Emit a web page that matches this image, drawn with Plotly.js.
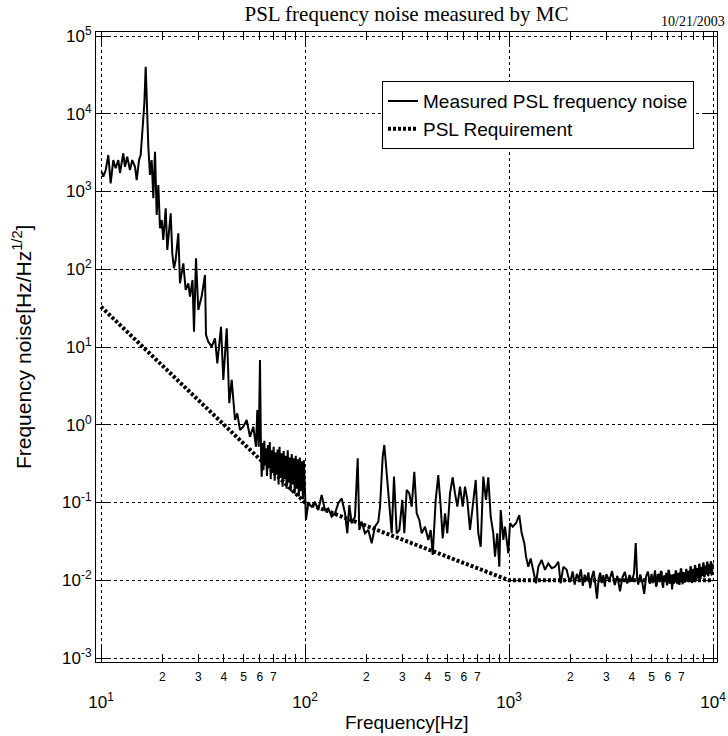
<!DOCTYPE html>
<html>
<head>
<meta charset="utf-8">
<script src="https://cdn.plot.ly/plotly-3.0.1.min.js"></script>
<style>html,body{margin:0;padding:0;background:#fff;}#chart{width:728px;height:736px;}</style>
</head>
<body>
<div id="chart"></div>
<script>
// Measured PSL frequency noise [Hz/Hz^1/2] vs frequency [Hz]
const freqMeasured = [
 10.08,10.26,10.55,10.86,11.15,11.49,11.80,12.16,12.39,12.86,13.11,13.44,13.87,14.23,14.68,14.96,15.36,15.65,
 16.01,16.31,16.56,16.81,17.06,17.39,17.72,18.05,18.40,18.75,19.10,19.46,19.84,20.20,20.76,21.13,21.54,21.96,
 22.36,22.79,23.23,23.93,24.39,24.86,25.32,26.01,26.79,27.31,28.09,28.57,29.22,29.99,31.17,32.35,32.71,33.57,
 34.88,36.21,37.17,38.75,39.77,41.33,42.55,43.72,45.38,46.57,48.01,49.83,51.78,53.75,55.79,57.51,58.37,59.29,
 60.17,60.86,61.34,
 62.0,62.6,63.2,63.8,64.5,65.1,65.8,66.5,67.2,67.9,68.7,69.4,70.2,71.0,71.8,72.6,73.4,74.2,75.0,75.9,76.8,77.7,
 78.6,79.5,80.4,81.3,82.3,83.2,84.2,85.1,86.1,87.1,88.1,89.1,90.1,91.1,92.2,93.3,94.4,95.5,96.6,97.7,98.8,99.9,
 101.1,103.8,107.8,111.9,116.2,120.7,125.3,130.1,135.2,140.3,145.6,151.3,157.1,161.2,164.9,169.4,175.8,181.3,
 184.6,189.7,196.8,204.3,212.3,220.3,228.7,233.2,240.4,244.8,251.5,258.2,266.1,273.1,281.6,290.0,299.9,306.8,
 315.1,324.5,333.4,343.4,352.8,363.4,373.3,387.5,402.2,413.3,422.7,437.2,450.2,462.6,473.2,485.7,498.4,513.8,
 529.7,543.6,558.0,575.2,592.9,608.6,624.6,644.0,663.9,686.8,707.2,726.6,748.2,771.4,791.6,813.4,837.5,853.9,
 876.3,896.4,910.6,937.8,955.9,992.2,1011,1043,1082,1123,1154,1189,1212,1243,1277,1315,1356,1392,1446,1501,
 1558,1619,1681,1745,1792,1846,1918,
 1950,2000,2050,2100,2150,2200,2250,2300,2350,2400,2450,2500,2550,2600,2650,2700,2750,2800,2850,2900,2950,3000,
 3100,3200,3300,3400,3500,3600,3700,3800,3900,4000,4100,4180,4250,4300,4400,4500,4600,4700,4800,4900,
 5000,5050,5100,5150,5200,5250,5300,5350,5400,5450,5500,5550,5600,5650,5700,5750,5800,5850,5900,5950,
 6000,6050,6100,6150,6200,6250,6300,6350,6400,6450,6500,6550,6600,6650,6700,6750,6800,6850,6900,6950,
 7000,7050,7100,7150,7200,7250,7300,7350,7400,7450,7500,7550,7600,7650,7700,7750,7800,7850,7900,7950,
 8000,8050,8100,8150,8200,8250,8300,8350,8400,8450,8500,8550,8600,8650,8700,8750,8800,8850,8900,8950,
 9000,9050,9100,9150,9200,9250,9300,9350,9400,9450,9500,9550,9600,9650,9700,9750,9800,9850,9900,9950,10000
];
const noiseMeasured = [
 1800,1550,1890,2950,1270,2540,1990,2540,1730,3100,2080,2800,1890,2540,2080,1405,2540,2950,
 6800,13600,40300,10100,3770,1630,2540,818,3250,499,1210,336,430,238,608,177,290,525,
 160,103,132,290,65.9,88.7,119,54.1,65.9,44.4,72.8,15.7,138,29.9,45.3,84.3,14.3,11.7,
 10.1,12.9,6.17,18.2,3.77,17.4,1.89,3.77,1.15,1.40,0.855,0.944,1.15,0.702,0.944,0.522,1.55,0.522,
 6.81,0.43,0.215,
 0.58,0.26,0.62,0.30,0.50,0.22,0.55,0.28,0.60,0.20,0.47,0.24,0.52,0.19,0.44,0.23,0.48,0.17,0.52,0.21,0.43,0.16,
 0.46,0.20,0.40,0.15,0.47,0.18,0.38,0.14,0.42,0.17,0.37,0.13,0.40,0.15,0.36,0.12,0.38,0.14,0.34,0.11,0.35,0.13,
 0.0596,0.0977,0.0883,0.102,0.080,0.125,0.080,0.084,0.0656,0.0726,0.0977,0.113,0.0726,0.0402,0.0929,0.0541,0.0656,0.371,
 0.0443,0.0566,0.0402,0.0443,0.0299,0.0489,0.0566,0.0883,0.388,0.549,0.238,0.0883,0.0402,0.215,0.0402,0.0443,0.108,0.0402,
 0.145,0.131,0.0883,0.249,0.0726,0.0596,0.0402,0.0489,0.033,0.0443,0.0211,0.108,0.225,0.0883,0.0346,0.0726,0.0402,0.131,
 0.211,0.131,0.0883,0.160,0.0883,0.160,0.108,0.0443,0.0977,0.195,0.0402,0.027,0.215,0.108,0.211,0.0656,0.0402,0.0201,
 0.0402,0.0149,0.080,0.033,0.0489,0.0222,0.0541,0.0489,0.0541,0.069,0.0402,0.0299,0.0201,0.0149,0.0191,0.0129,0.00914,0.0149,0.0182,0.0136,
 0.0165,0.0143,0.0149,0.0173,0.00914,0.0149,0.0136,
 0.0112,0.0095,0.0130,0.0088,0.0121,0.0102,0.0138,0.0085,0.0118,0.0097,0.0126,0.0079,0.0110,0.0132,0.0090,0.0058,0.0105,0.0125,0.0092,0.0116,0.0083,0.0120,
 0.0098,0.0131,0.0087,0.0114,0.0072,0.0109,0.0128,0.0091,0.0117,0.0096,0.0124,0.0300,0.0105,0.0088,0.0119,0.0094,0.0067,0.0113,0.0129,0.0090,
 0.0121,0.0092,0.0099,0.0128,0.0134,0.0083,0.0086,0.0117,0.0118,0.0095,0.0102,0.0131,0.0127,0.0088,0.0080,0.0112,0.0115,0.0097,0.0125,0.0086,
 0.0093,0.0136,0.0130,0.0090,0.0104,0.0118,0.0076,0.0113,0.0120,0.0091,0.0098,0.0129,0.0133,0.0094,0.0090,0.0121,0.0122,0.0087,0.0108,0.0141,
 0.0138,0.0096,0.0089,0.0124,0.0126,0.0093,0.0105,0.0137,0.0140,0.0099,0.0095,0.0132,0.0128,0.0097,0.0110,0.0151,0.0145,0.0102,0.0092,0.0139,
 0.0131,0.0100,0.0114,0.0156,0.0150,0.0098,0.0101,0.0143,0.0137,0.0107,0.0118,0.0162,0.0160,0.0109,0.0104,0.0149,0.0142,0.0113,0.0122,0.0168,
 0.0165,0.0112,0.0110,0.0155,0.0148,0.0118,0.0127,0.0172,0.0170,0.0114,0.0115,0.0160,0.0152,0.0121,0.0133,0.0175,0.0168,0.0119,0.0120,0.0163,0.0150
];

// PSL requirement (break points of the requirement curve)
const freqRequirement  = [10, 100, 1000, 10000];
const noiseRequirement = [33, 0.1, 0.01, 0.01];

// Tick labels
const yTickVals = [1e-3, 1e-2, 1e-1, 1e0, 1e1, 1e2, 1e3, 1e4, 1e5];
const yTickText = ['10<sup>-3</sup>','10<sup>-2</sup>','10<sup>-1</sup>','10<sup>0</sup>','10<sup>1</sup>',
                   '10<sup>2</sup>','10<sup>3</sup>','10<sup>4</sup>','10<sup>5</sup>'];
const xMajorVals = [10, 100, 1000, 10000];
const xMajorText = ['10<sup>1</sup>','10<sup>2</sup>','10<sup>3</sup>','10<sup>4</sup>'];
const xMinorTickVals = [20,30,40,50,60,70,80,90, 200,300,400,500,600,700,800,900, 2000,3000,4000,5000,6000,7000,8000,9000];
const xMinorLabelVals = [20,30,40,50,60,70, 200,300,400,500,600,700, 2000,3000,4000,5000,6000,7000];
const xMinorLabelText = ['2','3','4','5','6','7', '2','3','4','5','6','7', '2','3','4','5','6','7'];

const FONT = 'Liberation Sans, Arial, Helvetica, sans-serif';
const SERIF = 'Liberation Serif, Times New Roman, serif';
const xRange = [0.9755, 4.0196];
const yRange = [-3.0514, 5.0514];

const traces = [
  {
    x: freqMeasured, y: noiseMeasured, type: 'scatter', mode: 'lines',
    name: 'Measured PSL frequency noise',
    line: {color: '#000', width: 2}
  },
  {
    x: freqRequirement, y: noiseRequirement, type: 'scatter', mode: 'lines',
    name: 'PSL Requirement',
    line: {color: '#000', width: 4, dash: '3px,2px'}
  },
  { // invisible helper so the minor-label axis is drawn
    x: [10, 10000], y: [1, 1], xaxis: 'x2', yaxis: 'y', mode: 'lines',
    line: {width: 0}, showlegend: false, hoverinfo: 'skip', opacity: 0
  }
];

const layout = {
  width: 728, height: 736,
  margin: {l: 96, r: 11, t: 32, b: 74},
  paper_bgcolor: '#fff', plot_bgcolor: '#fff',
  showlegend: true,
  font: {family: FONT, color: '#000', size: 16},
  title: {
    text: 'PSL frequency noise measured by MC',
    font: {family: SERIF, size: 21, color: '#000'},
    xref: 'paper', x: 0.5, xanchor: 'center',
    yref: 'container', y: 0.982, yanchor: 'middle'
  },
  xaxis: {
    type: 'log', range: xRange,
    tickmode: 'array', tickvals: xMajorVals, ticktext: xMajorText,
    ticks: 'inside', ticklen: 15, tickwidth: 1, tickcolor: '#000',
    minor: {tickmode: 'array', tickvals: xMinorTickVals, ticks: 'inside', ticklen: 8,
            tickwidth: 1, tickcolor: '#000', showgrid: false},
    showline: true, linecolor: '#000', linewidth: 1, mirror: 'ticks',
    showgrid: true, gridcolor: '#000', gridwidth: 1, griddash: 'dot',
    zeroline: false, tickfont: {family: FONT, size: 17},
    ticklabelstandoff: 25
  },
  xaxis2: {
    type: 'log', range: xRange, overlaying: 'x', anchor: 'y', side: 'bottom',
    tickmode: 'array', tickvals: xMinorLabelVals, ticktext: xMinorLabelText,
    ticks: '', showline: false, showgrid: false, zeroline: false,
    tickfont: {family: FONT, size: 12},
    ticklabelstandoff: 6
  },
  yaxis: {
    type: 'log', range: yRange,
    tickmode: 'array', tickvals: yTickVals, ticktext: yTickText,
    ticks: 'inside', ticklen: 15, tickwidth: 1, tickcolor: '#000',
    showline: true, linecolor: '#000', linewidth: 1, mirror: 'ticks',
    showgrid: true, gridcolor: '#000', gridwidth: 1, griddash: 'dot',
    zeroline: false, tickfont: {family: FONT, size: 17}
  },
  legend: {
    x: 0.963, xanchor: 'right', y: 0.922, yanchor: 'top',
    bgcolor: '#fff', bordercolor: '#000', borderwidth: 1,
    font: {family: FONT, size: 19, color: '#000'}
  },
  annotations: [
    {
      text: '10/21/2003', xref: 'paper', yref: 'paper',
      x: 1.016, xanchor: 'right', y: 1.0159, yanchor: 'middle',
      showarrow: false, font: {family: SERIF, size: 14, color: '#000'}
    },
    {
      text: 'Frequency[Hz]', xref: 'paper', yref: 'paper',
      x: 0.5, xanchor: 'center', y: -0.0968, yanchor: 'middle',
      showarrow: false, font: {family: FONT, size: 19, color: '#000'}
    },
    {
      text: 'Frequency noise[Hz/Hz<sup>1/2</sup>]', xref: 'paper', yref: 'paper',
      x: -0.119, xanchor: 'center', y: 0.5, yanchor: 'middle', textangle: -90,
      showarrow: false, font: {family: FONT, size: 21, color: '#000'}
    }
  ]
};

Plotly.newPlot('chart', traces, layout, {displayModeBar: false, staticPlot: true});
</script>
</body>
</html>
